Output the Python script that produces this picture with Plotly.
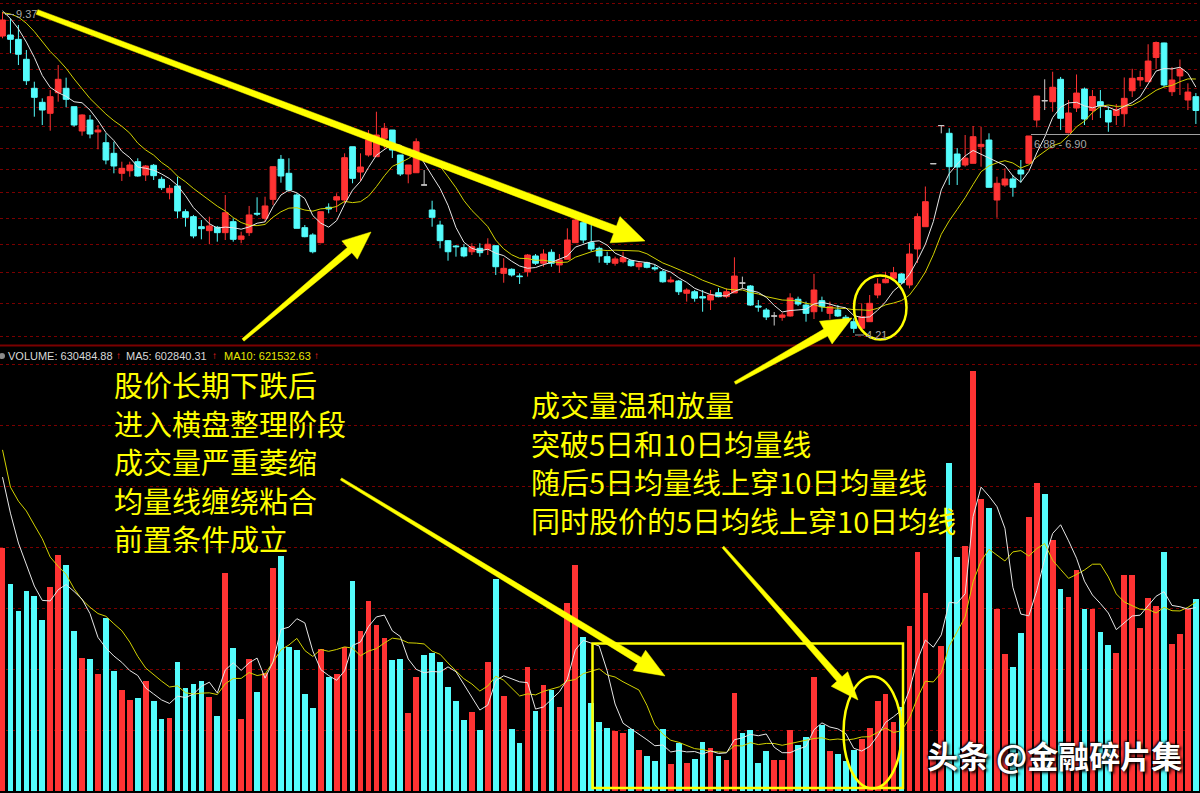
import numpy as np
import pandas as pd
import plotly.graph_objects as go

W, H = 1200, 793

# ---------------- data ----------------
opens = [8.826, 8.848, 8.753, 8.328, 7.747, 7.481, 7.279, 7.663, 7.747, 7.400,
         6.965, 7.158, 6.948, 6.765, 6.588, 6.268, 6.308, 6.452, 6.242, 6.394,
         6.175, 5.972, 6.073, 5.696, 5.626, 5.487, 5.433, 5.479, 5.406, 5.556,
         5.317, 5.406, 5.673, 5.603, 5.874, 6.490, 6.268, 5.938, 5.474, 5.375,
         5.273, 5.759, 5.864, 5.864, 6.697, 6.288, 6.561, 6.533, 6.839, 6.982,
         6.561, 6.257, 6.277, 6.088, 5.720, 5.510, 5.299, 5.229, 5.207, 5.155,
         5.199, 5.186, 5.233, 4.885, 4.934, 4.852, 4.904, 5.101, 5.009, 5.148,
         4.988, 5.059, 5.273, 5.542, 5.273, 5.199, 5.092, 5.009, 5.029, 5.041,
         4.966, 5.016, 4.954, 4.904, 4.783, 4.792, 4.648, 4.666, 4.609, 4.571,
         4.655, 4.609, 4.652, 4.768, 4.733, 4.503, 4.458, 4.392, 4.378, 4.392,
         4.579, 4.514, 4.439, 4.563, 4.421, 4.458, 4.378, 4.330, 4.259, 4.330,
         4.628, 4.772, 4.825, 4.877, 4.745, 5.190, 5.487, 6.420, 7.060, 6.925,
         6.577, 6.399, 6.426, 6.697, 6.810, 5.864, 6.088, 6.180, 6.319, 6.426,
         7.158, 7.511, 7.493, 7.923, 6.935, 7.376, 7.733, 7.330, 7.493, 7.330,
         7.240, 7.271, 7.700, 7.909, 7.876, 8.365, 8.674, 7.682, 7.989, 7.524,
         7.587]
highs = [9.370, 9.224, 9.072, 8.523, 7.876, 7.556, 7.714, 8.210, 7.955, 7.400,
         7.261, 7.249, 7.070, 6.925, 6.781, 6.452, 6.452, 6.507, 6.399, 6.415,
         6.215, 6.088, 6.215, 5.730, 5.650, 5.579, 5.626, 5.497, 5.938, 5.603,
         5.419, 5.778, 5.904, 5.913, 6.372, 6.561, 6.507, 5.963, 5.510, 5.398,
         5.696, 5.816, 5.963, 6.588, 6.697, 6.588, 6.982, 7.308, 7.105, 6.982,
         6.561, 6.399, 6.839, 6.319, 5.854, 5.569, 5.308, 5.242, 5.255, 5.265,
         5.265, 5.331, 5.233, 5.072, 4.946, 4.885, 5.126, 5.126, 5.186, 5.186,
         5.126, 5.465, 5.673, 5.579, 5.510, 5.220, 5.155, 5.092, 5.155, 5.050,
         5.029, 5.029, 4.988, 4.925, 4.845, 4.804, 4.706, 4.686, 4.686, 4.686,
         4.709, 4.706, 5.084, 4.845, 4.745, 4.571, 4.480, 4.436, 4.428, 4.648,
         4.609, 4.552, 4.877, 4.609, 4.552, 4.514, 4.403, 4.367, 4.533, 4.628,
         4.825, 4.904, 4.963, 4.885, 5.265, 5.673, 6.065, 6.420, 7.060, 7.012,
         6.675, 6.896, 7.052, 7.040, 6.925, 6.215, 6.346, 6.242, 6.479, 6.879,
         7.600, 7.923, 8.074, 7.970, 7.524, 8.019, 7.762, 7.714, 7.714, 7.404,
         7.450, 7.959, 8.133, 8.094, 8.646, 8.706, 8.680, 8.169, 8.324, 7.844,
         7.656]
lows = [8.776, 8.454, 8.210, 7.811, 7.218, 7.070, 6.970, 7.493, 7.389, 7.040,
        6.884, 6.839, 6.654, 6.410, 6.268, 6.149, 6.215, 6.215, 6.149, 6.164,
        6.012, 5.874, 5.603, 5.487, 5.331, 5.317, 5.252, 5.286, 5.308, 5.286,
        5.265, 5.362, 5.636, 5.556, 5.792, 6.123, 5.987, 5.465, 5.344, 5.135,
        5.265, 5.673, 5.692, 5.816, 6.114, 6.149, 6.533, 6.533, 6.675, 6.511,
        6.226, 6.114, 6.277, 6.088, 5.487, 5.199, 5.041, 5.092, 5.084, 5.113,
        5.092, 5.113, 4.865, 4.772, 4.845, 4.757, 4.845, 4.988, 4.966, 4.966,
        4.892, 5.059, 5.273, 5.265, 5.155, 5.016, 4.988, 4.979, 5.009, 4.966,
        4.925, 4.946, 4.917, 4.772, 4.772, 4.628, 4.552, 4.552, 4.439, 4.458,
        4.602, 4.591, 4.652, 4.706, 4.503, 4.439, 4.348, 4.289, 4.340, 4.385,
        4.503, 4.330, 4.359, 4.439, 4.356, 4.381, 4.340, 4.210, 4.241, 4.330,
        4.591, 4.765, 4.804, 4.757, 4.706, 5.013, 5.487, 6.420, 6.925, 6.088,
        6.088, 6.372, 6.426, 6.372, 6.053, 5.611, 6.060, 5.913, 6.123, 6.426,
        7.030, 7.339, 7.308, 6.982, 6.925, 7.303, 7.070, 7.158, 7.194, 6.952,
        7.070, 7.045, 7.580, 7.782, 7.876, 8.128, 7.767, 7.600, 7.619, 7.339,
        7.088]
closes = [9.185, 8.753, 8.433, 7.895, 7.575, 7.339, 7.587, 7.923, 7.537, 7.070,
          7.249, 6.913, 6.982, 6.479, 6.383, 6.346, 6.399, 6.226, 6.383, 6.231,
          6.047, 6.038, 5.706, 5.617, 5.362, 5.460, 5.497, 5.406, 5.682, 5.317,
          5.362, 5.650, 5.663, 5.778, 6.372, 6.226, 6.012, 5.465, 5.352, 5.155,
          5.696, 5.734, 5.913, 6.517, 6.190, 6.367, 6.810, 6.896, 7.012, 6.642,
          6.257, 6.399, 6.781, 6.088, 5.617, 5.299, 5.155, 5.220, 5.101, 5.220,
          5.143, 5.252, 4.966, 4.946, 4.865, 4.845, 5.113, 5.009, 5.126, 5.009,
          5.050, 5.308, 5.579, 5.308, 5.190, 5.101, 5.021, 5.063, 5.080, 4.979,
          5.009, 4.959, 4.941, 4.783, 4.804, 4.666, 4.686, 4.591, 4.594, 4.628,
          4.609, 4.666, 4.852, 4.768, 4.514, 4.492, 4.381, 4.392, 4.403, 4.594,
          4.525, 4.421, 4.686, 4.495, 4.495, 4.392, 4.345, 4.259, 4.384, 4.533,
          4.757, 4.813, 4.892, 4.772, 5.126, 5.626, 5.840, 6.420, 7.060, 6.372,
          6.367, 6.510, 6.867, 6.737, 6.053, 6.114, 6.180, 6.053, 6.257, 6.879,
          7.600, 7.511, 7.767, 7.189, 7.285, 7.656, 7.176, 7.591, 7.413, 7.123,
          7.348, 7.556, 7.943, 7.959, 8.292, 8.684, 7.811, 7.909, 8.128, 7.675,
          7.330]
volumes = [796000, 679000, 590000, 656000, 639000, 561000, 670000, 774000, 741000, 525000,
           436000, 432000, 385000, 566000, 394000, 332000, 298000, 304000, 361000, 295000,
           235000, 240000, 424000, 339000, 350000, 362000, 309000, 247000, 716000, 468000,
           237000, 433000, 325000, 387000, 732000, 772000, 471000, 463000, 318000, 273000,
           466000, 373000, 385000, 473000, 689000, 524000, 624000, 544000, 503000, 430000,
           432000, 255000, 375000, 446000, 452000, 422000, 340000, 296000, 233000, 258000,
           200000, 422000, 696000, 313000, 203000, 156000, 408000, 263000, 348000, 331000,
           276000, 616000, 741000, 506000, 290000, 225000, 208000, 197000, 191000, 203000,
           134000, 116000, 98000, 203000, 89000, 158000, 93000, 104000, 161000, 142000,
           116000, 102000, 320000, 191000, 200000, 93000, 131000, 102000, 102000, 200000,
           151000, 176000, 375000, 215000, 132000, 121000, 98000, 134000, 170000, 208000,
           295000, 318000, 227000, 275000, 542000, 783000, 648000, 110000, 476000, 1077000,
           768000, 803000, 1377000, 957000, 929000, 596000, 449000, 408000, 519000, 899000,
           1009000, 973000, 823000, 661000, 635000, 725000, 596000, 596000, 522000, 479000,
           452000, 708000, 708000, 536000, 634000, 607000, 783000, 482000, 515000, 596000,
           630484.88]
# sessions just before the visible window (only feed the moving averages)
closes_before = [9.05, 9.15, 9.30, 9.45, 9.60, 9.65, 9.60, 9.35, 9.20]
volumes_before = [1900000, 1050000, 980000, 1100000, 1010000, 1270000, 1080000, 1000000, 1000000]

price_grid = [9.56, 9.17, 8.81, 8.45, 8.11, 7.75, 7.39, 7.04, 6.67, 6.32,
              5.97, 5.60, 5.25, 4.90, 4.53, 4.17]
volume_grid = [200000, 400000, 600000, 800000, 1000000, 1200000, 1400000]

header_parts = ["VOLUME: 630484.88", "MA5: 602840.31", "MA10: 621532.63"]
notes_left = ["股价长期下跌后", "进入横盘整理阶段", "成交量严重萎缩", "均量线缠绕粘合", "前置条件成立"]
notes_right = ["成交量温和放量", "突破5日和10日均量线", "随后5日均量线上穿10日均量线", "同时股价的5日均线上穿10日均线"]
watermark = "头条 @金融碎片集"

# ---------------- styling ----------------
RED = "#FF3333"
CYAN = "#54FCFC"
GRAY = "#C8C8C8"
YEL = "#FFFF00"
MA5_C = "#E6E6E6"
MA10_C = "#D2D200"
GRID_C = "#7A0000"

n = len(closes)
idx = np.arange(n)
o = np.array(opens); h = np.array(highs); l = np.array(lows); c = np.array(closes)


def rolling(before, values, k):
    s = pd.Series(list(before) + list(values), dtype=float)
    return s.rolling(k).mean().iloc[len(before):].to_numpy()


ma5 = rolling(closes_before, closes, 5)
ma10 = rolling(closes_before, closes, 10)
vma5 = rolling(volumes_before, volumes, 5)
vma10 = rolling(volumes_before, volumes, 10)

prev_close = np.concatenate([[closes_before[-1]], c[:-1]])
vol_colors = []
for i in range(n):
    if c[i] > o[i]:
        vol_colors.append(RED)
    elif c[i] < o[i]:
        vol_colors.append(CYAN)
    else:
        vol_colors.append(RED if c[i] >= prev_close[i] else CYAN)

normal = o != c
doji = o == c

fig = go.Figure()
fig.add_trace(go.Candlestick(
    x=idx[normal], open=o[normal], high=h[normal], low=l[normal], close=c[normal],
    increasing=dict(line=dict(color=RED, width=1), fillcolor=RED),
    decreasing=dict(line=dict(color=CYAN, width=1), fillcolor=CYAN),
    whiskerwidth=0, hoverinfo="skip", showlegend=False))
fig.add_trace(go.Candlestick(
    x=idx[doji], open=o[doji], high=h[doji], low=l[doji], close=c[doji],
    increasing=dict(line=dict(color=GRAY, width=1), fillcolor=GRAY),
    decreasing=dict(line=dict(color=GRAY, width=1), fillcolor=GRAY),
    whiskerwidth=0, hoverinfo="skip", showlegend=False))
fig.add_trace(go.Scatter(x=idx, y=ma10, mode="lines", line=dict(color=MA10_C, width=1), hoverinfo="skip"))
fig.add_trace(go.Scatter(x=idx, y=ma5, mode="lines", line=dict(color=MA5_C, width=1), hoverinfo="skip"))

fig.add_trace(go.Bar(x=idx, y=volumes, marker=dict(color=vol_colors, line=dict(width=0)),
                     width=0.72, yaxis="y2", hoverinfo="skip"))
fig.add_trace(go.Scatter(x=idx, y=vma10, mode="lines", line=dict(color=MA10_C, width=1),
                         yaxis="y2", hoverinfo="skip"))
fig.add_trace(go.Scatter(x=idx, y=vma5, mode="lines", line=dict(color=MA5_C, width=1),
                         yaxis="y2", hoverinfo="skip"))


def px(x):
    return x / W


def py(y):
    return 1 - y / H


PRICE_TOP_PX, PRICE_BOT_PX = 0, 345
VOL_TOP_PX, VOL_BOT_PX = 350, 791
K = 401.2  # pixels per unit of ln(price)


def price_at(ypx):
    return 9.37 * np.exp(-(ypx - 12) / K)


fig.update_layout(
    width=W, height=H, margin=dict(l=0, r=0, t=0, b=0),
    paper_bgcolor="black", plot_bgcolor="black", showlegend=False,
    boxgap=0.28, boxgroupgap=0, bargap=0,
    xaxis=dict(range=[-0.314, 150.52], showgrid=False, zeroline=False, showticklabels=False,
               ticks="", showline=False, rangeslider=dict(visible=False)),
    yaxis=dict(type="log", domain=[py(PRICE_BOT_PX), py(PRICE_TOP_PX)],
               range=[np.log10(price_at(PRICE_BOT_PX)), np.log10(price_at(PRICE_TOP_PX))],
               tickvals=price_grid, showticklabels=False, ticks="", showgrid=True,
               gridcolor=GRID_C, griddash="dot", gridwidth=1, zeroline=False, showline=False),
    yaxis2=dict(domain=[py(VOL_BOT_PX), py(VOL_TOP_PX)],
                range=[0, (VOL_BOT_PX - VOL_TOP_PX) * 3279],
                tickvals=volume_grid, showticklabels=False, ticks="", showgrid=True,
                gridcolor=GRID_C, griddash="dot", gridwidth=1, zeroline=False, showline=False,
                anchor="x"),
)

shapes = []
# panel separator
shapes.append(dict(type="line", xref="paper", yref="paper", x0=0, x1=1, y0=py(345.5), y1=py(345.5),
                   line=dict(color="#7A0000", width=2)))
# header bullet
shapes.append(dict(type="circle", xref="paper", yref="paper", x0=px(-1), x1=px(5), y0=py(353), y1=py(359),
                   fillcolor="#8A8A8A", line=dict(width=0)))
# small pointer lines for price labels
shapes.append(dict(type="line", xref="paper", yref="paper", x0=px(5), x1=px(14), y0=py(14.5), y1=py(14.5),
                   line=dict(color="#A0A0A0", width=1)))
shapes.append(dict(type="line", xref="paper", yref="paper", x0=px(855), x1=px(864), y0=py(335), y1=py(335),
                   line=dict(color="#A0A0A0", width=1)))
shapes.append(dict(type="line", xref="paper", yref="paper", x0=px(1031), x1=1, y0=py(134.5), y1=py(134.5),
                   line=dict(color="#A0A0A0", width=1)))


def arrow(x0, y0, x1, y1, w0, w1, hl, hw):
    d = np.array([x1 - x0, y1 - y0], dtype=float)
    u = d / np.hypot(*d)
    nrm = np.array([-u[1], u[0]])
    tail = np.array([x0, y0], dtype=float)
    tip = np.array([x1, y1], dtype=float)
    base = tip - u * hl
    pts = [tail + nrm * w0 / 2, base + nrm * w1 / 2, base + nrm * hw / 2, tip,
           base - nrm * hw / 2, base - nrm * w1 / 2, tail - nrm * w0 / 2]
    path = "M " + " L ".join(f"{px(p[0]):.5f},{py(p[1]):.5f}" for p in pts) + " Z"
    return dict(type="path", xref="paper", yref="paper", path=path,
                fillcolor=YEL, line=dict(color=YEL, width=0.5))


shapes.append(arrow(37, 12, 645, 241, 5, 8, 32, 28))
shapes.append(arrow(243, 340, 371, 232, 3, 7, 28, 24))
shapes.append(arrow(735, 383, 852, 318, 3, 8, 30, 26))
shapes.append(arrow(341, 479, 665, 676, 2.5, 7, 30, 24))
shapes.append(arrow(723, 547, 858, 700, 2.5, 7, 28, 22))

# yellow ellipses and rectangle
shapes.append(dict(type="circle", xref="paper", yref="paper", x0=px(854), x1=px(906.5), y0=py(339.5), y1=py(275.5),
                   line=dict(color=YEL, width=2.5)))
shapes.append(dict(type="circle", xref="paper", yref="paper", x0=px(843.5), x1=px(901.5), y0=py(788.5), y1=py(676.5),
                   line=dict(color=YEL, width=2.5)))
shapes.append(dict(type="rect", xref="paper", yref="paper", x0=px(592.5), x1=px(903), y0=py(788), y1=py(643.5),
                   line=dict(color=YEL, width=2.5)))
fig.update_layout(shapes=shapes)

ann = []


def text(x, y, s, color, size, family="Liberation Sans", xanchor="left", **kw):
    ann.append(dict(x=px(x), y=py(y), xref="paper", yref="paper", text=s, showarrow=False,
                    xanchor=xanchor, yanchor="middle", borderpad=0,
                    font=dict(color=color, size=size, family=family, **kw)))


# volume header
HDR_Y = 356
text(7, HDR_Y, header_parts[0], "#D8D8D8", 11)
text(115, HDR_Y - 0.5, "↑", "#FF2020", 10)
text(125, HDR_Y, header_parts[1], "#D8D8D8", 11)
text(211, HDR_Y - 0.5, "↑", "#FF2020", 10)
text(223, HDR_Y, header_parts[2], "#E8E800", 11)
text(313, HDR_Y - 0.5, "↑", "#FF2020", 10)

# price labels
text(15, 14.5, "9.37", "#A8A8A8", 11)
text(865, 335, "4.21", "#A8A8A8", 11)
text(1033, 143.5, "6.88 - 6.90", "#A8A8A8", 11)

CJK = "Noto Sans CJK SC"
for k, s in enumerate(notes_left):
    text(113, 384 + 38.5 * k, s, YEL, 29, family=CJK)
for k, s in enumerate(notes_right):
    text(530, 404 + 38.5 * k, s, YEL, 29, family=CJK)

ann.append(dict(x=px(925), y=py(754), xref="paper", yref="paper", text=watermark, showarrow=False,
                xanchor="left", yanchor="middle",
                font=dict(color="white", size=31, family=CJK, weight=700,
                          shadow="2px 2px 3px #000, -1px -1px 2px #000")))
fig.update_layout(annotations=ann)

fig.write_html("out.html", config={"displayModeBar": False},
               post_script="document.body.style.margin='0';document.body.style.overflow='hidden';")
